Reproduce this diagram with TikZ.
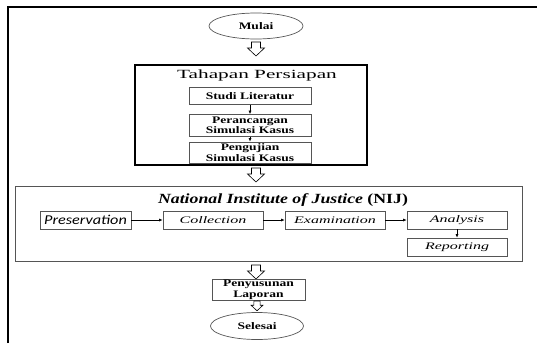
\documentclass[tikz,border=0pt]{standalone}
\usepackage{fontspec}
\setmainfont{Liberation Serif}
\newfontfamily\calibrisans{Carlito}
\usetikzlibrary{shapes.geometric, arrows.meta, positioning}
\definecolor{boxgray}{RGB}{85,85,85}
% horizontally widened text
\newcommand{\widetext}[2][1.35]{\scalebox{#1}[1]{#2}}

\begin{document}
\begin{tikzpicture}[x=1pt, y=-1pt,
    terminal/.style={ellipse, draw=boxgray, line width=0.7pt, minimum width=94pt, minimum height=26pt, inner sep=0pt, font=\bfseries\fontsize{10}{11}\selectfont},
    prepbox/.style={rectangle, draw=boxgray, line width=0.7pt, minimum width=122pt, align=center, inner sep=1pt, font=\bfseries\fontsize{10}{10.5}\selectfont},
    stagebox/.style={rectangle, draw=boxgray, line width=0.7pt, minimum width=100pt, minimum height=18pt, inner sep=1pt, font=\itshape\fontsize{10}{11}\selectfont},
    frame/.style={rectangle, draw, inner sep=0pt},
    flow/.style={-{Latex[length=3.5pt,width=3pt]}, line width=0.6pt},
    hollow/.pic={\draw[line width=0.6pt] (-4.5,0) -- (4.5,0) -- (4.5,6) -- (8.5,6) -- (0,14) -- (-8.5,6) -- (-4.5,6) -- cycle;}
]
    \useasboundingbox (0,0) rectangle (537,343);
    \draw[line width=2pt] (8,343) -- (8,7) -- (537,7);

    % start
    \node[terminal] (mulai) at (256,26) {\widetext{Mulai}};
    \pic at (256,42) {hollow};

    % tahapan persiapan
    \node[frame, line width=1.3pt, minimum width=232pt, minimum height=100pt] (prep) at (251,115) {};
    \node[font=\fontsize{12.5}{13}\selectfont] (preptitle) at (257,75) {\widetext[1.7]{Tahapan Persiapan}};
    \node[prepbox, minimum height=17pt] (studi) at (250,96) {\widetext{Studi Literatur}};
    \node[prepbox, minimum height=22pt] (rancang) at (250,125.5) {\widetext{Perancangan}\\\widetext{Simulasi Kasus}};
    \node[prepbox, minimum height=21pt] (uji) at (250,152.5) {\widetext{Pengujian}\\\widetext{Simulasi Kasus}};
    \draw[flow] (studi) -- (rancang);
    \draw[flow] (rancang) -- (uji);
    \pic at (256,168) {hollow};

    % NIJ
    \node[frame, draw=boxgray, line width=1pt, minimum width=507pt, minimum height=75pt] (nij) at (268.5,223.5) {};
    \node[font=\bfseries\fontsize{14}{15}\selectfont] (nijtitle) at (283,200) {\widetext[1.27]{\textit{National Institute of Justice} (NIJ)}};
    \node[stagebox, minimum width=91pt, font=\calibrisans\itshape\fontsize{13.5}{14}\selectfont] (preserve) at (85.5,220) {\widetext[1.2]{Preservation}};
    \node[stagebox] (collect) at (213,220) {\widetext[1.6]{Collection}};
    \node[stagebox] (examine) at (335,220) {\widetext[1.6]{Examination}};
    \node[stagebox] (analyse) at (457,220) {\widetext[1.6]{Analysis}};
    \node[stagebox] (report) at (457,247) {\widetext[1.6]{Reporting}};
    \draw[flow] (preserve) -- (collect);
    \draw[flow] (collect) -- (examine);
    \draw[flow] (examine) -- (analyse);
    \draw[flow] (analyse) -- (report);
    \pic at (256,265) {hollow};

    % end
    \node[prepbox, minimum width=93pt, minimum height=19pt] (lapor) at (258.5,290) {\widetext{Penyusunan}\\\widetext{Laporan}};
    \pic[scale=0.7] at (257,301) {hollow};
    \node[terminal, minimum width=93pt, minimum height=27pt] (selesai) at (257,326) {\widetext{Selesai}};
\end{tikzpicture}
\end{document}
